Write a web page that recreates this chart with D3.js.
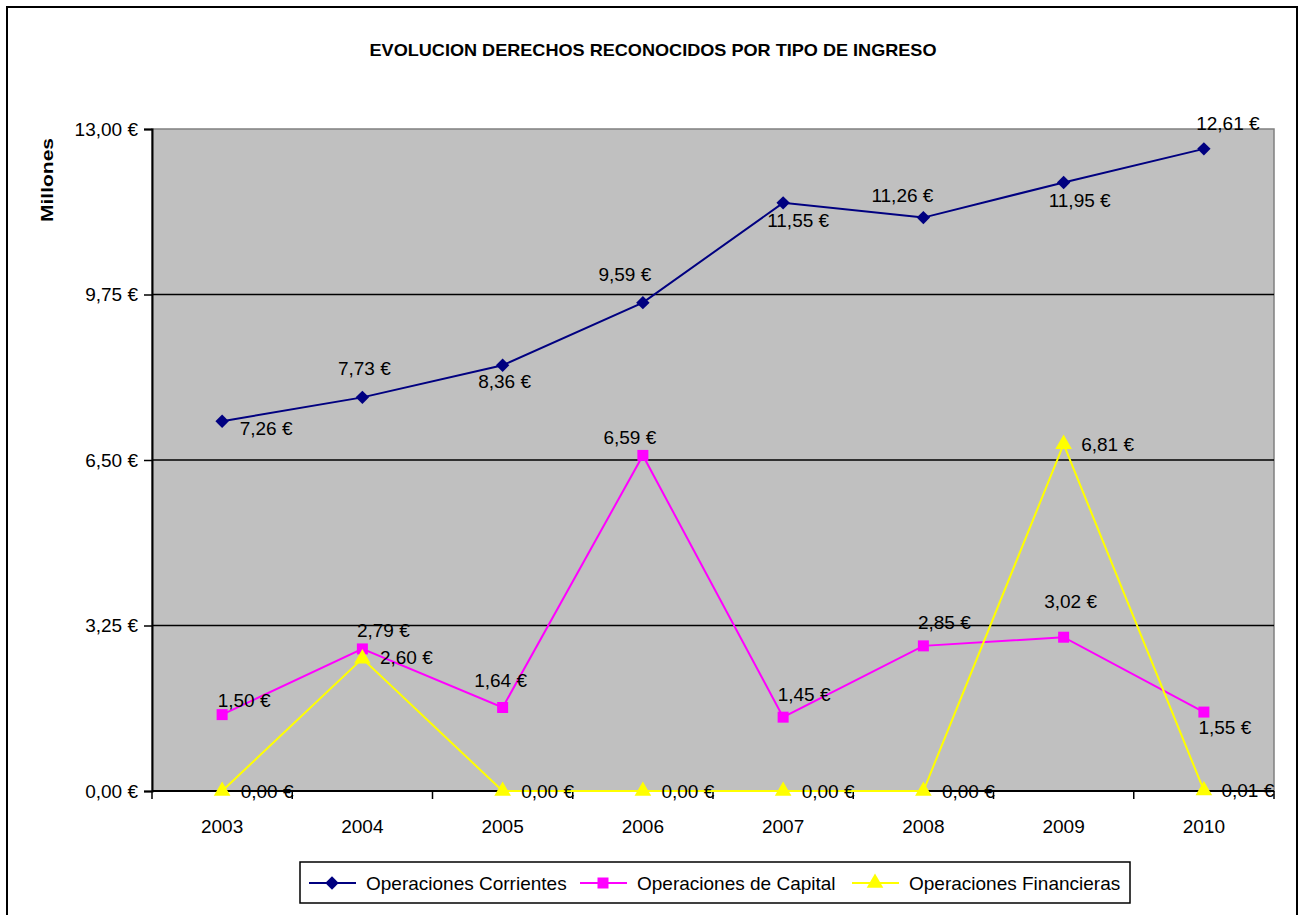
<!DOCTYPE html>
<html>
<head>
<meta charset="utf-8">
<script src="https://cdn.jsdelivr.net/npm/d3@7"></script>
<style>
  body { margin: 0; background: #fff; }
  text { font-family: "Liberation Sans", Arial, sans-serif; fill: #000; }
</style>
</head>
<body>
<div id="chart"></div>
<script>
// data
const years = ["2003", "2004", "2005", "2006", "2007", "2008", "2009", "2010"];
const corrientes = [7.26, 7.73, 8.36, 9.59, 11.55, 11.26, 11.95, 12.61];
const capital = [1.50, 2.79, 1.64, 6.59, 1.45, 2.85, 3.02, 1.55];
const financieras = [0.00, 2.60, 0.00, 0.00, 0.00, 0.00, 6.81, 0.01];
const yTicks = [0, 3.25, 6.5, 9.75, 13];
const seriesNames = ["Operaciones Corrientes", "Operaciones de Capital", "Operaciones Financieras"];

// label offsets (dx, dy of label centre from the point), as placed in the original
const labelShift = [
  [[44, 7], [2, -29], [2, 16], [-18, -28], [15, 18], [-21, -22], [16, 18], [24, -26]],
  [[22, -14], [21, -19], [-2, -27], [-13, -18], [21, -23], [21, -24], [7, -36], [21, 15]],
  [[45, 0], [44, -1], [45, 0], [45, 0], [45, 0], [45, 0], [44, 0], [44, 0]]
];

const W = 1300, H = 915;
const margin = { left: 152, top: 129, right: 1274, bottom: 791 };
const FS = "19px";

const svg = d3.select("#chart").append("svg")
  .attr("width", W)
  .attr("height", H);

// outer frame
svg.append("rect")
  .attr("x", 7).attr("y", 7)
  .attr("width", 1290).attr("height", 920)
  .attr("fill", "#fff")
  .attr("stroke", "#000")
  .attr("stroke-width", 2);

const x = d3.scaleBand()
  .domain(years)
  .range([margin.left, margin.right]);

const y = d3.scaleLinear()
  .domain([0, 13])
  .range([margin.bottom, margin.top]);

const fmt = v => d3.format(".2f")(v).replace(".", ",") + " €";

// plot area
svg.append("rect")
  .attr("x", margin.left).attr("y", margin.top)
  .attr("width", margin.right - margin.left)
  .attr("height", margin.bottom - margin.top)
  .attr("fill", "#c0c0c0")
  .attr("stroke", "#808080")
  .attr("stroke-width", 1.5);

// gridlines
svg.append("g")
  .selectAll("line")
  .data(yTicks.filter(d => d > 0 && d < 13))
  .join("line")
    .attr("x1", margin.left).attr("x2", margin.right)
    .attr("y1", d => y(d)).attr("y2", d => y(d))
    .attr("stroke", "#000")
    .attr("stroke-width", 1.5);

// y axis
const yAxis = svg.append("g")
  .attr("transform", `translate(${margin.left},0)`)
  .call(d3.axisLeft(y).tickValues(yTicks).tickFormat(fmt).tickSize(8).tickPadding(6));
yAxis.select(".domain").attr("stroke", "#000").attr("stroke-width", 2);
yAxis.selectAll(".tick line").attr("stroke", "#000").attr("stroke-width", 1.5);
yAxis.selectAll(".tick text")
  .style("font-family", "Liberation Sans, Arial, sans-serif")
  .style("font-size", FS)
  .attr("fill", "#000");

// x axis: ticks on the category boundaries
const xAxis = svg.append("g")
  .attr("transform", `translate(0,${margin.bottom})`);
xAxis.append("line")
  .attr("x1", margin.left).attr("x2", margin.right)
  .attr("stroke", "#000").attr("stroke-width", 2);
xAxis.selectAll("line.tick")
  .data(years.concat(["end"]))
  .join("line")
    .attr("class", "tick")
    .attr("x1", (d, i) => margin.left + i * x.step())
    .attr("x2", (d, i) => margin.left + i * x.step())
    .attr("y1", 0).attr("y2", 8)
    .attr("stroke", "#000").attr("stroke-width", 1.5);
xAxis.selectAll("text")
  .data(years)
  .join("text")
    .attr("x", d => x(d) + x.bandwidth() / 2)
    .attr("y", 35)
    .attr("dy", "0.35em")
    .attr("text-anchor", "middle")
    .style("font-size", FS)
    .text(d => d);

// y title
svg.append("text")
  .attr("transform", "translate(47,180) rotate(-90)")
  .attr("text-anchor", "middle")
  .attr("dy", "0.35em")
  .style("font-size", "17px")
  .style("font-weight", "bold")
  .attr("textLength", 84)
  .attr("lengthAdjust", "spacingAndGlyphs")
  .text("Millones");

// chart title
svg.append("text")
  .attr("x", 653).attr("y", 50)
  .attr("dy", "0.35em")
  .attr("text-anchor", "middle")
  .style("font-size", "17px")
  .style("font-weight", "bold")
  .attr("textLength", 567)
  .attr("lengthAdjust", "spacingAndGlyphs")
  .text("EVOLUCION DERECHOS RECONOCIDOS POR TIPO DE INGRESO");

const diamond = d3.symbol().type(d3.symbolSquare).size(90);
const series = [
  { name: seriesNames[0], values: corrientes, color: "#000080", sym: diamond, rot: 45 },
  { name: seriesNames[1], values: capital, color: "#ff00ff", sym: d3.symbol().type(d3.symbolSquare).size(121), rot: 0 },
  { name: seriesNames[2], values: financieras, color: "#ffff00", sym: d3.symbol().type(d3.symbolTriangle).size(120), rot: 0 }
];

const cx = i => x(years[i]) + x.bandwidth() / 2;

const line = d3.line()
  .x((d, i) => cx(i))
  .y(d => y(d));

series.forEach(s => {
  const g = svg.append("g");
  g.append("path")
    .datum(s.values)
    .attr("fill", "none")
    .attr("stroke", s.color)
    .attr("stroke-width", 2)
    .attr("d", line);
  g.selectAll("path.mark")
    .data(s.values)
    .join("path")
      .attr("class", "mark")
      .attr("transform", (d, i) => `translate(${cx(i)},${y(d)}) rotate(${s.rot})`)
      .attr("fill", s.color)
      .attr("d", s.sym);
});

// data labels
series.forEach((s, si) => {
  svg.append("g")
    .selectAll("text")
    .data(s.values)
    .join("text")
      .attr("x", (d, i) => cx(i) + labelShift[si][i][0])
      .attr("y", (d, i) => y(d) + labelShift[si][i][1])
      .attr("dy", "0.35em")
      .attr("text-anchor", "middle")
      .style("font-size", FS)
      .text(d => fmt(d));
});

// legend
const legend = svg.append("g").attr("transform", "translate(300,862)");
legend.append("rect")
  .attr("width", 830).attr("height", 41)
  .attr("fill", "#fff")
  .attr("stroke", "#000")
  .attr("stroke-width", 1.5);
const legendX = [9, 280, 552];
series.forEach((s, i) => {
  const item = legend.append("g").attr("transform", `translate(${legendX[i]},21)`);
  item.append("line")
    .attr("x1", 0).attr("x2", 47)
    .attr("stroke", s.color).attr("stroke-width", 2);
  item.append("path")
    .attr("transform", `translate(23,0) rotate(${s.rot})`)
    .attr("fill", s.color)
    .attr("d", s.sym);
  item.append("text")
    .attr("x", 57).attr("dy", "0.35em")
    .style("font-size", FS)
    .text(s.name);
});
</script>
</body>
</html>
